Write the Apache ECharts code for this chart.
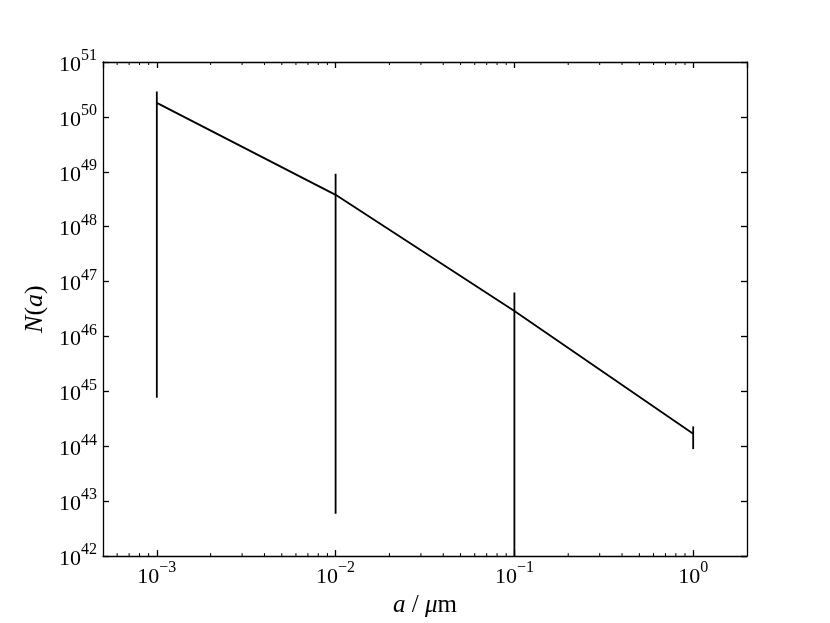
<!DOCTYPE html>
<html>
<head>
<meta charset="utf-8">
<script src="https://cdn.jsdelivr.net/npm/echarts@6/dist/echarts.min.js"></script>
<style>
  html, body { margin: 0; padding: 0; background: #fff; }
  #main { width: 830px; height: 623px; }
</style>
</head>
<body>
<div id="main"></div>
<script>
// grain size a (um) and number N(a)
const xs = [1e-3, 1e-2, 1e-1, 1];
const ys = [1.8e50, 3.8e48, 2.9e46, 1.7e44];
const yUpper = [2.9e50, 9.2e48, 6.3e46, 2.3e44];
const yLower = [7.7e44, 5.9e42, 3e41, 8.9e43];

// axis ranges
const xRange = [5e-4, 2];
const yRange = [1e42, 1e51];

// minor ticks (matplotlib style, 2..9 x 10^k)
const mantissas = [2, 3, 4, 5, 6, 7, 8, 9];
const xDecades = [-4, -3, -2, -1, 0];
const yDecades = [42, 43, 44, 45, 46, 47, 48, 49, 50];

const FONT = 'Liberation Serif';

function minorList(decades, range) {
  let out = [];
  decades.forEach(d => {
    mantissas.forEach(m => {
      let v = m * Math.pow(10, d);
      if (v > range[0] * 1.0001 && v < range[1] * 0.9999) out.push(v);
    });
  });
  return out;
}
const xMinor = minorList(xDecades, xRange);
const yMinor = minorList(yDecades, yRange);

function powLabel(v) {
  let e = Math.round(Math.log10(v));
  if (Math.abs(Math.log10(v) - e) > 1e-6) return '';
  let s = e < 0 ? '\u2212' + (-e) : '' + e;
  return '{b|10}{s|' + s + '}';
}

const richTick = {
  b: { fontFamily: FONT, fontSize: 22, color: '#000', lineHeight: 28, verticalAlign: 'bottom' },
  s: { fontFamily: FONT, fontSize: 16, color: '#000', lineHeight: 15, verticalAlign: 'top' }
};

const lineStyle = { color: '#000', width: 1.3 };

let chart = echarts.init(document.getElementById('main'), null, { renderer: 'canvas' });

function baseX(extra) {
  return Object.assign({
    type: 'log',
    logBase: 10,
    min: xRange[0],
    max: xRange[1],
    axisLine: { show: true, lineStyle: lineStyle },
    axisTick: { show: true, inside: true, length: 6, lineStyle: lineStyle },
    splitLine: { show: false },
    minorTick: { show: false },
    axisLabel: { show: false }
  }, extra);
}
function baseY(extra) {
  return Object.assign({
    type: 'log',
    logBase: 10,
    min: yRange[0],
    max: yRange[1],
    axisLine: { show: true, lineStyle: lineStyle },
    axisTick: { show: true, inside: true, length: 6, lineStyle: lineStyle },
    splitLine: { show: false },
    minorTick: { show: false },
    axisLabel: { show: false }
  }, extra);
}

// small tick marks drawn inward on both opposite sides
function minorTickRender(dir) {
  return function (params, api) {
    let cs = params.coordSys;
    let v = api.value(0);
    let lines = [];
    let len = 3;
    if (dir === 'x') {
      let px = api.coord([v, yRange[0]])[0];
      lines.push([px, cs.y + cs.height, px, cs.y + cs.height - len]);
      lines.push([px, cs.y, px, cs.y + len]);
    } else {
      let py = api.coord([xRange[0], v])[1];
      lines.push([cs.x, py, cs.x + len, py]);
      lines.push([cs.x + cs.width, py, cs.x + cs.width - len, py]);
    }
    return {
      type: 'group',
      children: lines.map(l => ({
        type: 'line',
        shape: { x1: l[0], y1: l[1], x2: l[2], y2: l[3] },
        style: { stroke: '#000', lineWidth: 1 }
      }))
    };
  };
}

chart.setOption({
  animation: false,
  backgroundColor: '#fff',
  grid: { left: 103, right: 83, top: 62, bottom: 63, containLabel: false },
  xAxis: [
    baseX({
      position: 'bottom',
      axisLabel: {
        show: true, margin: 4, formatter: powLabel, rich: richTick,
        showMinLabel: false, showMaxLabel: false
      },
      name: '{i|a} / {i|\u03bc}{r|m}',
      nameLocation: 'middle',
      nameGap: 34,
      nameTextStyle: {
        rich: {
          i: { fontFamily: FONT, fontStyle: 'italic', fontSize: 25, color: '#000' },
          r: { fontFamily: FONT, fontSize: 25, color: '#000' }
        },
        fontFamily: FONT, fontSize: 25, color: '#000'
      }
    }),
    baseX({ position: 'top' })
  ],
  yAxis: [
    baseY({
      position: 'left',
      axisLabel: {
        show: true, margin: 6, formatter: powLabel, rich: richTick
      },
      name: '{i|N}({i|a})',
      nameLocation: 'middle',
      nameGap: 55,
      nameTextStyle: {
        rich: {
          i: { fontFamily: FONT, fontStyle: 'italic', fontSize: 26, color: '#000' }
        },
        fontFamily: FONT, fontSize: 26, color: '#000'
      }
    }),
    baseY({ position: 'right' })
  ],
  series: [
    {
      type: 'line',
      xAxisIndex: 0,
      yAxisIndex: 0,
      data: xs.map((x, i) => [x, ys[i]]),
      symbol: 'none',
      lineStyle: { color: '#000', width: 1.8 },
      z: 3
    },
    {
      type: 'custom',
      xAxisIndex: 0,
      yAxisIndex: 0,
      data: xs.map((x, i) => [x, yLower[i], yUpper[i]]),
      renderItem: function (params, api) {
        let cs = params.coordSys;
        let top = api.coord([api.value(0), api.value(2)]);
        let bot = api.coord([api.value(0), api.value(1)]);
        let y1 = Math.max(cs.y, Math.min(cs.y + cs.height, top[1]));
        let y2 = Math.max(cs.y, Math.min(cs.y + cs.height, bot[1]));
        return {
          type: 'line',
          shape: { x1: top[0], y1: y1, x2: bot[0], y2: y2 },
          style: { stroke: '#000', lineWidth: 1.8 }
        };
      },
      z: 3
    },
    {
      type: 'custom',
      xAxisIndex: 0,
      yAxisIndex: 0,
      data: xMinor.map(v => [v, yRange[0]]),
      renderItem: minorTickRender('x'),
      silent: true
    },
    {
      type: 'custom',
      xAxisIndex: 0,
      yAxisIndex: 0,
      data: yMinor.map(v => [xRange[0], v]),
      renderItem: minorTickRender('y'),
      silent: true
    }
  ]
});
</script>
</body>
</html>
